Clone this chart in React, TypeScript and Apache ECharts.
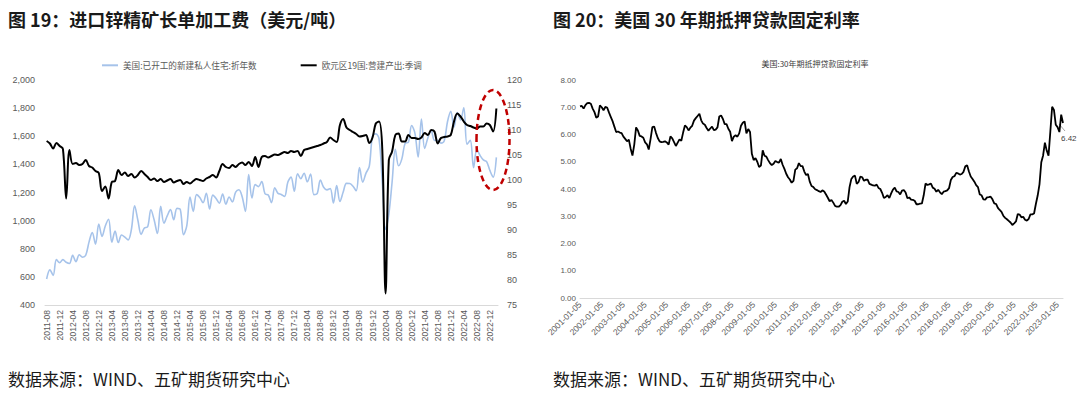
import React, { useEffect, useRef } from "react";
import * as echarts from "echarts";

// ---------- Figure 19 data (monthly, 2011-08 .. 2023-02) ----------
const seriesNames = ["美国:已开工的新建私人住宅:折年数", "欧元区19国:营建产出:季调"];

// US housing starts, SAAR (thousand units) – left axis
const housingStarts = [
  585, 650, 611, 723, 701,
  723, 704, 695, 753, 708, 757, 740, 754, 847, 915, 833, 976,
  888, 962, 1010, 847, 925, 844, 898, 883, 863, 936, 1105, 1003,
  902, 948, 956, 1077, 1004, 908, 1102, 981, 1034, 1078, 1006, 1087,
  1080, 900, 963, 1167, 1066, 1185, 1165, 1127, 1195, 1083, 1181, 1158,
  1124, 1189, 1117, 1168, 1133, 1202, 1220, 1170, 1066, 1327, 1162, 1256,
  1242, 1278, 1191, 1182, 1128, 1233, 1194, 1186, 1172, 1273, 1309, 1209,
  1333, 1299, 1337, 1276, 1332, 1185, 1192, 1289, 1237, 1219, 1228, 1125,
  1249, 1136, 1203, 1265, 1264, 1245, 1212, 1377, 1274, 1338, 1385, 1603,
  1617, 1582, 1269, 938, 1046, 1273, 1508, 1390, 1439, 1550, 1557, 1676,
  1622, 1452, 1723, 1514, 1590, 1641, 1571, 1572, 1551, 1567, 1703, 1777,
  1666, 1769, 1716, 1803, 1543, 1571, 1377, 1505, 1463, 1432, 1419, 1357,
  1309, 1450,
];

// Euro area 19 construction output, SA index – right axis
const euroConstruction = [
  107.8, 107.3, 106.3, 107.4, 106.8,
  106.2, 96.3, 106.0, 103.2, 103.4, 103.0, 103.2, 104.0, 102.8, 102.5, 101.8, 101.4,
  97.8, 98.7, 96.3, 99.6, 99.8, 102.0, 101.0, 101.5, 100.8, 101.2, 100.5, 101.0,
  101.8, 101.2, 100.6, 100.0, 100.3, 99.8, 100.2, 99.6, 99.9, 100.2, 99.5, 99.8,
  100.0, 99.2, 99.6, 99.3, 99.8, 100.2, 100.0, 99.8, 100.3, 100.6, 101.0, 100.5,
  101.8, 103.2, 102.6, 102.4, 103.0, 102.6, 103.2, 103.5, 103.0, 103.6, 102.8, 104.6,
  102.6, 104.6, 104.8, 104.5, 104.8, 105.1, 105.0, 105.3, 105.6, 105.4, 105.8, 105.6,
  105.8, 104.8, 106.0, 106.2, 106.4, 106.6, 106.8, 107.0, 107.3, 107.6, 108.5, 108.0,
  107.6, 111.0, 112.2, 110.5, 110.0, 109.6, 109.2, 108.7, 108.8, 109.0, 107.4, 108.5,
  111.3, 111.7, 106.0, 77.3, 104.0, 105.7, 109.0, 109.3, 107.7, 107.7, 109.0, 108.4,
  108.4, 108.2, 108.5, 109.4, 109.0, 110.0, 109.7, 107.3, 108.4, 108.6, 108.7, 109.0,
  111.7, 113.3, 112.7, 111.7, 111.0, 110.8, 110.5, 110.3, 110.7, 110.7, 111.3, 111.0,
  109.7, 114.3,
];

const firstYear = 2011;
const firstMonth = 8;
const monthLabels: string[] = housingStarts.map((_, i) => {
  const t = firstMonth - 1 + i;
  const y = firstYear + Math.floor(t / 12);
  const m = (t % 12) + 1;
  return `${y}-${String(m).padStart(2, "0")}`;
});

// ---------- Figure 20 data: US 30y fixed mortgage rate (%) ----------
const mortgageName = "美国:30年期抵押贷款固定利率";
const mortgageStartYear = 2001;
const mortgageRate = [
  7.03, 7.05, 6.95, 7.08, 7.15, 7.16, 7.13, 6.95, 6.82, 6.62, 6.66, 7.07,
  7.00, 6.89, 7.01, 6.99, 6.81, 6.65, 6.49, 6.29, 6.09, 6.11, 6.07, 6.05,
  5.92, 5.84, 5.75, 5.81, 5.48, 5.23, 5.63, 6.26, 6.15, 5.95, 5.93, 5.88,
  5.71, 5.64, 5.45, 5.83, 6.27, 6.29, 6.06, 5.87, 5.75, 5.72, 5.73, 5.75,
  5.71, 5.63, 5.93, 5.86, 5.72, 5.58, 5.70, 5.82, 5.77, 6.07, 6.33, 6.27,
  6.15, 6.25, 6.32, 6.51, 6.60, 6.68, 6.76, 6.52, 6.40, 6.36, 6.24, 6.14,
  6.22, 6.29, 6.16, 6.18, 6.26, 6.66, 6.70, 6.57, 6.38, 6.38, 6.21, 6.10,
  5.76, 5.92, 5.97, 5.92, 6.04, 6.32, 6.43, 6.48, 6.04, 6.20, 6.09, 5.29,
  5.06, 5.13, 5.00, 4.81, 4.86, 5.42, 5.22, 5.19, 5.06, 4.95, 4.88, 4.93,
  5.03, 4.99, 4.97, 5.10, 4.89, 4.74, 4.56, 4.43, 4.35, 4.23, 4.30, 4.71,
  4.76, 4.95, 4.84, 4.84, 4.64, 4.51, 4.55, 4.27, 4.11, 4.07, 3.99, 3.96,
  3.92, 3.89, 3.95, 3.91, 3.80, 3.68, 3.55, 3.60, 3.50, 3.38, 3.35, 3.35,
  3.41, 3.53, 3.57, 3.45, 3.54, 4.07, 4.37, 4.46, 4.49, 4.19, 4.26, 4.46,
  4.43, 4.30, 4.34, 4.34, 4.19, 4.16, 4.13, 4.12, 4.16, 4.04, 4.00, 3.86,
  3.67, 3.71, 3.77, 3.67, 3.84, 3.98, 4.05, 3.91, 3.89, 3.80, 3.94, 3.96,
  3.87, 3.66, 3.69, 3.61, 3.60, 3.57, 3.44, 3.44, 3.46, 3.47, 3.77, 4.20,
  4.15, 4.17, 4.20, 4.05, 4.01, 3.90, 3.97, 3.88, 3.81, 3.90, 3.92, 3.95,
  4.03, 4.33, 4.44, 4.47, 4.59, 4.57, 4.53, 4.55, 4.63, 4.83, 4.87, 4.64,
  4.46, 4.37, 4.27, 4.14, 4.07, 3.80, 3.77, 3.62, 3.61, 3.69, 3.70, 3.72,
  3.62, 3.47, 3.45, 3.31, 3.23, 3.16, 3.02, 2.94, 2.89, 2.83, 2.77, 2.68,
  2.74, 2.81, 3.08, 3.06, 2.96, 2.98, 2.87, 2.84, 2.90, 3.07, 3.07, 3.10,
  3.45, 3.76, 4.17, 4.98, 5.23, 5.70, 5.41, 5.22, 6.11, 7.02, 6.90, 6.36,
  6.27, 6.09,
];
const mortgageTailDates = ["2023-03-09", "2023-03-23"];
const mortgageTailValues = [6.73, 6.42];

const mortgageDates: string[] = mortgageRate
  .map((_, i) => {
    const y = mortgageStartYear + Math.floor(i / 12);
    const m = (i % 12) + 1;
    return `${y}-${String(m).padStart(2, "0")}-05`;
  })
  .concat(mortgageTailDates);
const mortgageValues: number[] = mortgageRate.concat(mortgageTailValues);

const FONT = "'Liberation Sans', 'Noto Sans CJK SC', sans-serif";
const CJK = "'Noto Sans CJK SC', sans-serif";
const GRAY = "#595959";

export default function App() {
  const ref = useRef<HTMLDivElement>(null);

  useEffect(() => {
    document.body.style.margin = "0";
    const chart = echarts.init(ref.current!, undefined, { renderer: "svg" });

    const lastIdx = mortgageValues.length - 1;

    const option: any = {
      animation: false,
      textStyle: { fontFamily: FONT },
      legend: {
        left: 102,
        top: 61,
        padding: 0,
        icon: "rect",
        itemWidth: 16,
        itemHeight: 2,
        itemGap: 44,
        textStyle: { fontSize: 8.6, color: GRAY, fontFamily: CJK },
        data: seriesNames,
      },
      grid: [
        { left: 45, top: 80, width: 453, height: 225 },
        { left: 580, top: 80, width: 483, height: 218 },
      ],
      xAxis: [
        {
          type: "category",
          gridIndex: 0,
          data: monthLabels,
          boundaryGap: true,
          axisLine: { lineStyle: { color: "#D9D9D9", width: 1 } },
          axisTick: { show: false },
          axisLabel: { interval: 3, rotate: 90, fontSize: 8.5, color: GRAY, margin: 5 },
        },
        {
          type: "category",
          gridIndex: 1,
          data: mortgageDates,
          boundaryGap: false,
          axisLine: { lineStyle: { color: "#D9D9D9", width: 1 } },
          axisTick: { show: false },
          axisLabel: {
            interval: (_i: number, v: string) => v.endsWith("-01-05"),
            rotate: 45,
            fontSize: 8.5,
            color: GRAY,
            margin: 5,
          },
        },
      ],
      yAxis: [
        {
          type: "value",
          gridIndex: 0,
          min: 400,
          max: 2000,
          interval: 200,
          splitLine: { show: false },
          axisLine: { show: false },
          axisTick: { show: false },
          axisLabel: {
            fontSize: 9,
            color: GRAY,
            margin: 10,
            formatter: (v: number) => v.toLocaleString("en-US"),
          },
        },
        {
          type: "value",
          gridIndex: 0,
          position: "right",
          min: 75,
          max: 120,
          interval: 5,
          splitLine: { show: false },
          axisLine: { show: false },
          axisTick: { show: false },
          axisLabel: { fontSize: 9, color: GRAY, margin: 9 },
        },
        {
          type: "value",
          gridIndex: 1,
          min: 0,
          max: 8,
          interval: 1,
          splitLine: { show: false },
          axisLine: { show: false },
          axisTick: { show: false },
          axisLabel: { fontSize: 8, color: GRAY, margin: 4, formatter: (v: number) => v.toFixed(2) },
        },
      ],
      series: [
        {
          name: seriesNames[0],
          type: "line",
          xAxisIndex: 0,
          yAxisIndex: 0,
          data: housingStarts,
          symbol: "none",
          smooth: 0.35,
          lineStyle: { color: "#A6C3EA", width: 1.6 },
          itemStyle: { color: "#A6C3EA" },
          z: 2,
        },
        {
          name: seriesNames[1],
          type: "line",
          xAxisIndex: 0,
          yAxisIndex: 1,
          data: euroConstruction,
          symbol: "none",
          smooth: 0.35,
          lineStyle: { color: "#000000", width: 2 },
          itemStyle: { color: "#000000" },
          z: 3,
        },
        {
          name: mortgageName,
          type: "line",
          xAxisIndex: 1,
          yAxisIndex: 2,
          data: mortgageValues,
          symbol: "none",
          lineStyle: { color: "#000000", width: 1.8 },
          itemStyle: { color: "#000000" },
          endLabel: {
            show: true,
            fontSize: 8,
            color: "#404040",
            offset: [-10, 15],
            formatter: () => Number(mortgageValues[lastIdx]).toFixed(2),
          },
        },
      ],
      graphic: [
        {
          type: "text",
          style: { x: 8, y: 19, text: "图 19：进口锌精矿长单加工费（美元/吨）", font: `bold 18px ${CJK}`, fill: "#1a1a1a", textVerticalAlign: "middle", verticalAlign: "middle" },
        },
        {
          type: "text",
          style: { x: 553, y: 19, text: "图 20：美国 30 年期抵押贷款固定利率", font: `bold 18px ${CJK}`, fill: "#1a1a1a", textVerticalAlign: "middle", verticalAlign: "middle" },
        },
        {
          type: "text",
          style: { x: 8, y: 378, text: "数据来源：WIND、五矿期货研究中心", font: `17px ${CJK}`, fill: "#1a1a1a", textVerticalAlign: "middle", verticalAlign: "middle" },
        },
        {
          type: "text",
          style: { x: 553, y: 378, text: "数据来源：WIND、五矿期货研究中心", font: `17px ${CJK}`, fill: "#1a1a1a", textVerticalAlign: "middle", verticalAlign: "middle" },
        },
        {
          type: "text",
          style: { x: 815, y: 63, text: mortgageName, font: `8px ${CJK}`, fill: "#404040", textAlign: "center", align: "center", textVerticalAlign: "middle", verticalAlign: "middle" },
        },
        {
          type: "line",
          shape: { x1: 1059, y1: 124, x2: 1065, y2: 131 },
          style: { stroke: "#8c8c8c", lineWidth: 0.8 },
        },
        {
          type: "ellipse",
          shape: { cx: 493, cy: 140, rx: 16.5, ry: 50 },
          style: { fill: "none", stroke: "#C00000", lineWidth: 2.5, lineDash: [6, 4] },
          z: 10,
        },
      ],
    };

    chart.setOption(option);
    return () => chart.dispose();
  }, []);

  return (
    <div
      ref={ref}
      style={{ position: "absolute", left: 0, top: 0, width: 1080, height: 397, background: "#ffffff" }}
    />
  );
}
